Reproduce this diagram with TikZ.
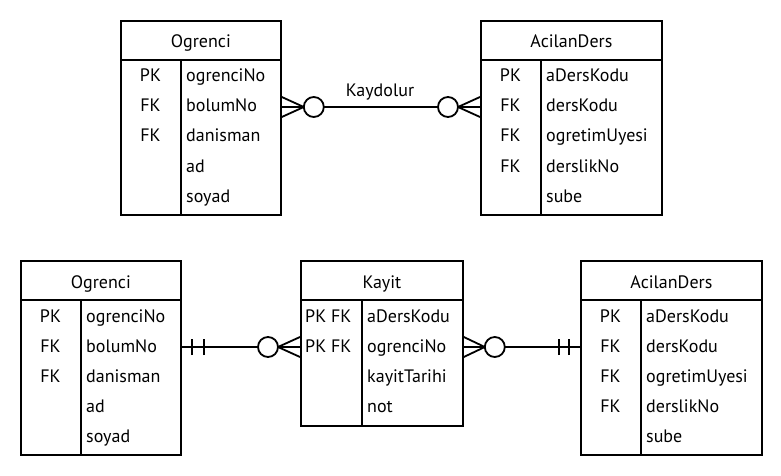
\documentclass[tikz,border=0pt]{standalone}
\usepackage{fontspec}
\setmainfont{PT Sans}
\usetikzlibrary{calc}
\newcommand\tfont{\fontsize{18}{22}\selectfont}
\tikzset{
  tbl/.style={draw, line width=1.8pt, inner sep=0pt, fill=white},
  tblline/.style={line width=1.8pt},
  hdr/.style={inner sep=0pt, anchor=base, font=\tfont},
  keytxt/.style={inner sep=0pt, anchor=base, font=\tfont},
  keytxtl/.style={inner sep=0pt, anchor=base west, font=\tfont},
  attrtxt/.style={inner sep=0pt, anchor=base west, font=\tfont},
  conn/.style={line width=1.8pt},
  lbl/.style={inner sep=0pt, anchor=base, font=\tfont}
}
% #1 name, #2 x, #3 y, #4 width, #5 height, #6 divider offset, #7 title, #8 key style/offset, #9 rows
\newcommand\ertbl[9]{%
  \node[tbl, minimum width=#4pt, minimum height=#5pt, anchor=north west] (#1) at (#2,#3) {};
  \draw[tblline] ([yshift=-40pt]#1.north west) -- ([yshift=-40pt]#1.north east);
  \draw[tblline] ([xshift=#6pt,yshift=-40pt]#1.north west) -- ([xshift=#6pt]#1.south west);
  \node[hdr] (#1-h) at ([yshift=-28pt]#1.north) {#7};
  \foreach \k/\a [count=\i] in {#9} {
    \node[#8] (#1-k\i) at ([yshift={-62-30*(\i-1)}]#1.north west) {\k};
    \node[attrtxt] (#1-a\i) at ([xshift={#6+5}, yshift={-62-30*(\i-1)}]#1.north west) {\a};
    \coordinate (#1-r\i) at ([yshift={-57-30*(\i-1)}]#1.north west);
  }%
}
\begin{document}
\begin{tikzpicture}[x=1pt,y=-1pt]
\useasboundingbox (0,0) rectangle (781,476);
\ertbl{o1}{120}{20}{160}{194}{61}{Ogrenci}{keytxt, xshift=30.5pt}{PK/ogrenciNo, FK/bolumNo, FK/danisman, {}/ad, {}/soyad}
\ertbl{a1}{480}{20}{181}{194}{61}{AcilanDers}{keytxt, xshift=30.5pt}{PK/aDersKodu, FK/dersKodu, FK/ogretimUyesi, FK/derslikNo, {}/sube}
\ertbl{o2}{20}{260}{160}{194}{61}{Ogrenci}{keytxt, xshift=30.5pt}{PK/ogrenciNo, FK/bolumNo, FK/danisman, {}/ad, {}/soyad}
\ertbl{k}{300}{260}{162}{165}{62}{Kayit}{keytxtl, xshift=5pt}{PK FK/aDersKodu, PK FK/ogrenciNo, {}/kayitTarihi, {}/not}
\ertbl{a2}{580}{260}{181}{194}{61}{AcilanDers}{keytxt, xshift=30.5pt}{PK/aDersKodu, FK/dersKodu, FK/ogretimUyesi, FK/derslikNo, {}/sube}

% top relationship
\coordinate (c1s) at (o1.east |- o1-r2);
\coordinate (c1e) at (a1.west |- a1-r2);
\draw[conn] (c1s) -- (c1e);
\draw[conn] ([yshift=-10pt]c1s) -- ([xshift=22pt]c1s) -- ([yshift=10pt]c1s);
\draw[conn, fill=white] ([xshift=32pt]c1s) circle[radius=10pt];
\draw[conn] ([yshift=-10pt]c1e) -- ([xshift=-22pt]c1e) -- ([yshift=10pt]c1e);
\draw[conn, fill=white] ([xshift=-32pt]c1e) circle[radius=10pt];
\node[lbl] (kd) at (380,97) {Kaydolur};

% bottom left relationship
\coordinate (c2s) at (o2.east |- o2-r2);
\coordinate (c2e) at (k.west |- k-r2);
\draw[conn] (c2s) -- (c2e);
\draw[conn] ([xshift=10pt,yshift=-8pt]c2s) -- ([xshift=10pt,yshift=8pt]c2s);
\draw[conn] ([xshift=22pt,yshift=-8pt]c2s) -- ([xshift=22pt,yshift=8pt]c2s);
\draw[conn] ([yshift=-10pt]c2e) -- ([xshift=-22pt]c2e) -- ([yshift=10pt]c2e);
\draw[conn, fill=white] ([xshift=-32pt]c2e) circle[radius=10pt];

% bottom right relationship
\coordinate (c3s) at (k.east |- k-r2);
\coordinate (c3e) at (a2.west |- a2-r2);
\draw[conn] (c3s) -- (c3e);
\draw[conn] ([yshift=-10pt]c3s) -- ([xshift=21pt]c3s) -- ([yshift=10pt]c3s);
\draw[conn, fill=white] ([xshift=31pt]c3s) circle[radius=10pt];
\draw[conn] ([xshift=-11pt,yshift=-8pt]c3e) -- ([xshift=-11pt,yshift=8pt]c3e);
\draw[conn] ([xshift=-21pt,yshift=-8pt]c3e) -- ([xshift=-21pt,yshift=8pt]c3e);
\end{tikzpicture}
\end{document}
